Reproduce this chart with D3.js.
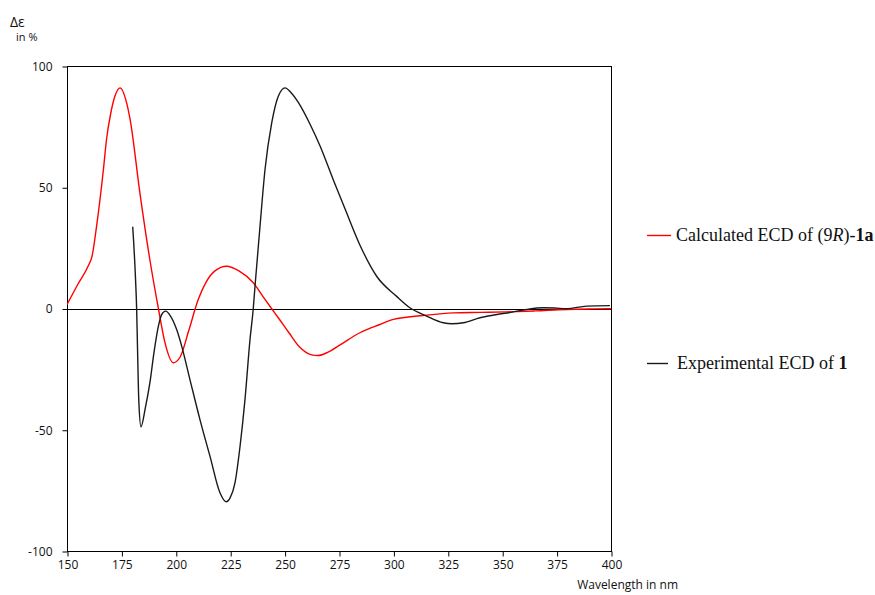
<!DOCTYPE html>
<html>
<head>
<meta charset="utf-8">
<script src="https://cdn.jsdelivr.net/npm/d3@7/dist/d3.min.js"></script>
<style>
  html, body { margin: 0; padding: 0; background: #fff; }
  svg { display: block; }
</style>
</head>
<body>
<svg id="chart" width="875" height="595"></svg>
<script>
// Calculated ECD spectrum of (9R)-1a
const calcWavelength = [150, 155, 160, 161.5, 163.6, 166.7, 168.2, 170, 172, 174.4, 177.4, 179, 183.5, 188.1, 192, 195, 198.8, 202, 206, 210.3, 214, 218, 223.4, 229, 235.6, 240, 244, 247.1, 252, 257, 262, 265.3, 270, 275.5, 284.6, 293.8, 300, 313.7, 327.5, 340, 352, 365, 379.6, 390, 400];
const calcDelta      = [1.6, 10, 18, 21.5, 34, 57, 70, 80, 87.5, 91, 84.8, 78, 47.7, 20, 0, -14, -22.4, -20, -9, 3.7, 11, 15.5, 17.4, 15.5, 10.6, 5, 0, -3.8, -10, -16, -19, -19.4, -18, -15, -10, -6.6, -4.5, -2.9, -1.8, -1.6, -1.4, -1, -0.4, -0.2, -0.1];

// Experimental ECD spectrum of 1
const expWavelength = [180.2, 181.5, 182, 182.4, 183, 184, 186, 188.1, 190, 192, 193.5, 195.3, 197.5, 200.4, 202.7, 206.5, 211.1, 215.7, 220.3, 223.1, 225, 227.2, 229.5, 231.8, 234.1, 235.6, 236.4, 238.7, 241, 244.1, 247.1, 250.2, 253, 256.3, 261.7, 266.3, 272.4, 277.8, 284.7, 292.3, 301.5, 307.6, 315, 322.9, 327, 332.1, 339.8, 347, 355.1, 361.3, 368.9, 374, 379.6, 388.8, 399.5];
const expDelta      = [33.7, 12, 0, -16, -38, -48.8, -41, -30.6, -18, -7.3, -2.5, -1.1, -3, -8.7, -15.5, -29.3, -45.8, -60.9, -76, -79.7, -78, -71.9, -57, -37.5, -12.8, 0, 9.2, 33.9, 57.3, 76.6, 87.5, 91, 89, 85, 76, 67, 53, 41, 26, 13.3, 5, 0.3, -3, -5.9, -6.3, -5.9, -3.8, -2.6, -1.4, -0.4, 0.3, 0.2, -0.1, 1, 1.2];

const xTicks = [150, 175, 200, 225, 250, 275, 300, 325, 350, 375, 400];
const yTicks = [100, 50, 0, -50, -100];

const seriesColors = ["#ff0000", "#1a1a1a"];

const svg = d3.select("#chart");

const plot = { left: 67, right: 611, top: 66, bottom: 551 };

const x = d3.scaleLinear().domain([150, 400]).range([plot.left, plot.right]);
const y = d3.scaleLinear().domain([-100, 100]).range([plot.bottom, plot.top]);

const tickFont = "'Open Sans', 'DejaVu Sans', sans-serif";
const tickColor = "#111";

// Frame
svg.append("rect")
  .attr("x", plot.left + 0.5).attr("y", plot.top + 0.5)
  .attr("width", plot.right - plot.left).attr("height", plot.bottom - plot.top)
  .attr("fill", "none").attr("stroke", "#000").attr("stroke-width", 1);

// Zero line
svg.append("line")
  .attr("x1", plot.left).attr("x2", plot.right)
  .attr("y1", Math.round(y(0)) + 0.5).attr("y2", Math.round(y(0)) + 0.5)
  .attr("stroke", "#000").attr("stroke-width", 1);

// X axis
const xAxis = svg.append("g")
  .attr("transform", `translate(0.5,${plot.bottom + 0.5})`)
  .call(d3.axisBottom(x).tickValues(xTicks).tickSize(5).tickPadding(4).tickFormat(d => String(d)));
xAxis.select(".domain").remove();
xAxis.selectAll("line").attr("stroke", "#000");
xAxis.selectAll("text").attr("font-family", tickFont).attr("font-size", 12).attr("fill", tickColor);

// Y axis
const yAxis = svg.append("g")
  .attr("transform", `translate(${plot.left + 0.5},0.5)`)
  .call(d3.axisLeft(y).tickValues(yTicks).tickSize(5).tickPadding(10).tickFormat(d => String(d)));
yAxis.select(".domain").remove();
yAxis.selectAll("line").attr("stroke", "#000");
yAxis.selectAll("text").attr("font-family", tickFont).attr("font-size", 12).attr("fill", tickColor);

// Axis titles
svg.append("text")
  .attr("x", 10).attr("y", 27)
  .attr("font-family", tickFont).attr("font-size", 14).attr("fill", tickColor)
  .text("Δε");
svg.append("text")
  .attr("x", 16).attr("y", 41)
  .attr("font-family", tickFont).attr("font-size", 11).attr("fill", tickColor)
  .text("in %");
svg.append("text")
  .attr("x", 678).attr("y", 589)
  .attr("text-anchor", "end")
  .attr("font-family", tickFont).attr("font-size", 12).attr("fill", tickColor)
  .text("Wavelength in nm");

// Spectra
const line = d3.line()
  .x(d => x(d[0]))
  .y(d => y(d[1]))
  .curve(d3.curveMonotoneX);

svg.append("clipPath").attr("id", "plotClip")
  .append("rect")
  .attr("x", plot.left).attr("y", plot.top)
  .attr("width", plot.right - plot.left + 1).attr("height", plot.bottom - plot.top);

const series = [
  d3.zip(calcWavelength, calcDelta),
  d3.zip(expWavelength, expDelta)
];

svg.append("g").attr("clip-path", "url(#plotClip)")
  .selectAll("path")
  .data(series)
  .join("path")
  .attr("d", line)
  .attr("fill", "none")
  .attr("stroke", (d, i) => seriesColors[i])
  .attr("stroke-width", 1.4)
  .attr("stroke-linejoin", "round");

// Legend
const serif = "'Liberation Serif', 'Times New Roman', serif";
const legendY = [235.5, 363.5];
const legendEnd = [671, 668];

svg.selectAll(".legend-line")
  .data(seriesColors)
  .join("line")
  .attr("class", "legend-line")
  .attr("x1", 647).attr("x2", (d, i) => legendEnd[i])
  .attr("y1", (d, i) => legendY[i]).attr("y2", (d, i) => legendY[i])
  .attr("stroke", d => d).attr("stroke-width", 1.4);

const t1 = svg.append("text")
  .attr("x", 676).attr("y", 241)
  .attr("font-family", serif).attr("font-size", 18).attr("fill", "#111");
t1.append("tspan").text("Calculated ECD of (9");
t1.append("tspan").attr("font-style", "italic").text("R");
t1.append("tspan").text(")-");
t1.append("tspan").attr("font-weight", "bold").text("1a");

const t2 = svg.append("text")
  .attr("x", 677).attr("y", 369)
  .attr("font-family", serif).attr("font-size", 18).attr("fill", "#111");
t2.append("tspan").text("Experimental ECD of ");
t2.append("tspan").attr("font-weight", "bold").text("1");
</script>
</body>
</html>
